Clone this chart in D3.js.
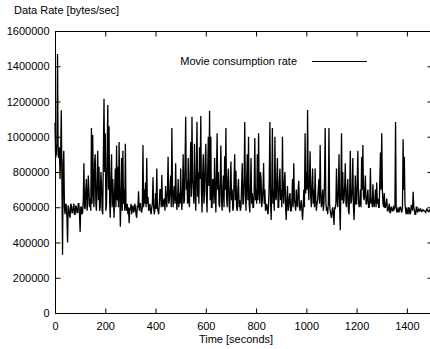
<!DOCTYPE html>
<html>
<head>
<meta charset="utf-8">
<script src="https://cdn.jsdelivr.net/npm/d3@7"></script>
<style>
  body { margin: 0; background: #fff; }
  svg { display: block; font-family: "Liberation Sans", Arial, Helvetica, sans-serif; }
  .tick text { font-size: 11px; fill: #000; }
  .tick line { stroke: #000; }
</style>
</head>
<body>
<svg id="chart" width="430" height="349"></svg>
<script>
// sample spacing of the trace, seconds
var step = 2.5;

// data rate in thousands of bytes/sec, one value every 2.5 s (t = 0 .. 1497.5)
var rateK = [
    1080, 880, 900, 960, 1470, 900, 880, 940, 760, 900, 1150, 750, 330, 850, 920, 600, 560, 620, 610, 540,
    400, 610, 590, 560, 540, 620, 610, 570, 570, 600, 620, 560, 560, 610, 600, 570, 570, 620, 620, 560,
    460, 600, 600, 560, 570, 640, 850, 600, 590, 700, 760, 580, 620, 780, 700, 600, 650, 580, 1050, 620,
    1010, 700, 600, 850, 900, 620, 580, 760, 920, 640, 830, 580, 600, 800, 740, 580, 560, 900, 1215, 800,
    1020, 580, 620, 900, 1180, 700, 1060, 620, 540, 780, 900, 600, 760, 640, 540, 700, 820, 600, 950, 640,
    830, 600, 970, 700, 490, 650, 880, 580, 920, 620, 700, 580, 960, 600, 580, 620, 560, 600, 510, 590,
    590, 620, 560, 600, 610, 570, 580, 620, 600, 560, 540, 610, 600, 690, 580, 620, 620, 580, 570, 600,
    953, 600, 700, 620, 740, 600, 880, 620, 660, 580, 590, 620, 580, 560, 600, 620, 770, 600, 560, 590,
    680, 590, 820, 600, 580, 560, 620, 700, 700, 600, 783, 620, 600, 640, 650, 580, 720, 640, 600, 700,
    887, 620, 640, 700, 780, 600, 1050, 700, 600, 680, 720, 620, 850, 660, 585, 640, 760, 600, 680, 620,
    820, 640, 585, 700, 900, 620, 640, 860, 1114, 700, 750, 620, 880, 640, 600, 800, 970, 660, 1114, 760,
    700, 620, 960, 700, 580, 800, 1085, 660, 800, 620, 940, 760, 1117, 700, 570, 780, 900, 620, 680, 860,
    960, 680, 570, 800, 1000, 720, 1148, 640, 1000, 600, 600, 760, 750, 620, 880, 700, 570, 780, 1020, 700,
    800, 620, 600, 760, 950, 640, 580, 700, 780, 600, 890, 700, 1050, 660, 600, 760, 820, 620, 570, 700,
    860, 640, 700, 580, 600, 760, 900, 640, 807, 600, 580, 700, 760, 600, 640, 580, 600, 720, 850, 620,
    620, 760, 1083, 680, 580, 740, 900, 640, 1000, 620, 570, 700, 880, 620, 680, 600, 600, 700, 993, 640,
    700, 620, 900, 640, 1020, 700, 620, 800, 760, 600, 640, 700, 851, 620, 700, 580, 600, 620, 580, 560,
    620, 760, 1084, 640, 528, 700, 1050, 620, 700, 580, 1000, 660, 640, 760, 880, 600, 600, 740, 820, 640,
    700, 600, 1000, 680, 620, 740, 800, 600, 528, 640, 720, 580, 600, 660, 680, 580, 580, 640, 760, 600,
    850, 640, 620, 580, 700, 620, 600, 700, 750, 600, 580, 620, 640, 580, 528, 600, 700, 600, 1020, 680,
    800, 700, 1152, 720, 640, 760, 917, 660, 600, 720, 820, 620, 700, 600, 820, 640, 580, 620, 640, 700,
    760, 620, 953, 680, 600, 640, 700, 580, 620, 760, 1050, 640, 580, 600, 560, 620, 1050, 620, 580, 560,
    540, 580, 600, 560, 500, 600, 590, 620, 820, 640, 600, 700, 900, 600, 470, 700, 1020, 640, 800, 620,
    640, 720, 850, 620, 600, 700, 760, 580, 560, 700, 920, 620, 640, 700, 880, 600, 528, 640, 780, 620,
    620, 760, 920, 640, 600, 620, 700, 600, 887, 700, 953, 660, 640, 700, 780, 620, 620, 660, 700, 600,
    600, 640, 823, 620, 650, 600, 730, 620, 600, 640, 700, 600, 740, 620, 650, 600, 600, 760, 910, 700,
    1020, 700, 620, 600, 680, 600, 600, 620, 650, 580, 580, 600, 620, 570, 570, 600, 600, 580, 580, 600,
    590, 600, 1084, 600, 570, 580, 600, 570, 580, 600, 600, 580, 570, 600, 986, 700, 887, 620, 580, 560,
    600, 570, 560, 600, 590, 560, 570, 610, 610, 580, 688, 600, 580, 560, 560, 600, 600, 570, 580, 590,
    580, 585, 590, 575, 575, 585, 585, 580, 580, 575, 570, 585, 590, 580, 580, 575, 585, 580, 580, 585
];

var xTicks = [0, 200, 400, 600, 800, 1000, 1200, 1400];
var yTicksK = [0, 200, 400, 600, 800, 1000, 1200, 1400, 1600];
var yTickLabels = ["0", "200000", "400000", "600000", "800000", "1000000", "1200000", "1400000", "1600000"];

var seriesName = "Movie consumption rate";
var xLabel = "Time [seconds]";
var yLabel = "Data Rate [bytes/sec]";

var plotLeft = 55, plotRight = 432, plotTop = 31, plotBottom = 313;

var svg = d3.select("#chart");

var x = d3.scaleLinear().domain([0, 1500]).range([plotLeft, plotRight]);
var y = d3.scaleLinear().domain([0, 1600]).range([plotBottom, plotTop]);

// axes, ticks point inward like gnuplot, mirrored on top/right
svg.append("g")
    .attr("transform", "translate(0," + (plotBottom + 0.5) + ")")
    .call(d3.axisBottom(x).tickValues(xTicks).tickSize(-5).tickPadding(9).tickFormat(d => String(d)))
    .call(g => g.select(".domain").remove());

svg.append("g")
    .attr("transform", "translate(0," + (plotTop + 0.5) + ")")
    .call(d3.axisTop(x).tickValues(xTicks).tickSize(-5).tickFormat(""))
    .call(g => g.select(".domain").remove());

svg.append("g")
    .attr("transform", "translate(" + (plotLeft + 0.5) + ",0)")
    .call(d3.axisLeft(y).tickValues(yTicksK).tickSize(-5).tickPadding(6)
        .tickFormat((d, i) => yTickLabels[i]))
    .call(g => g.select(".domain").remove());

svg.append("g")
    .attr("transform", "translate(" + (plotRight + 0.5) + ",0)")
    .call(d3.axisRight(y).tickValues(yTicksK).tickSize(-5).tickFormat(""))
    .call(g => g.select(".domain").remove());

svg.selectAll(".tick text").attr("fill", "#000");

// the trace
var line = d3.line()
    .x((d, i) => x(i * step))
    .y(d => y(d));

svg.append("path")
    .datum(rateK)
    .attr("fill", "none")
    .attr("stroke", "#000")
    .attr("stroke-width", 1.3)
    .attr("d", line);

// border
svg.append("rect")
    .attr("x", plotLeft + 0.5)
    .attr("y", plotTop + 0.5)
    .attr("width", plotRight - plotLeft)
    .attr("height", plotBottom - plotTop)
    .attr("fill", "none")
    .attr("stroke", "#000")
    .attr("stroke-width", 1);

// legend
svg.append("text")
    .attr("x", 297)
    .attr("y", 65)
    .attr("text-anchor", "end")
    .attr("font-size", "11px")
    .text(seriesName);

svg.append("line")
    .attr("x1", 312).attr("x2", 367)
    .attr("y1", 61.5).attr("y2", 61.5)
    .attr("stroke", "#000")
    .attr("stroke-width", 1);

// axis titles
svg.append("text")
    .attr("x", 14)
    .attr("y", 14)
    .attr("font-size", "11px")
    .text(yLabel);

svg.append("text")
    .attr("x", 236)
    .attr("y", 343)
    .attr("text-anchor", "middle")
    .attr("font-size", "11px")
    .text(xLabel);
</script>
</body>
</html>
